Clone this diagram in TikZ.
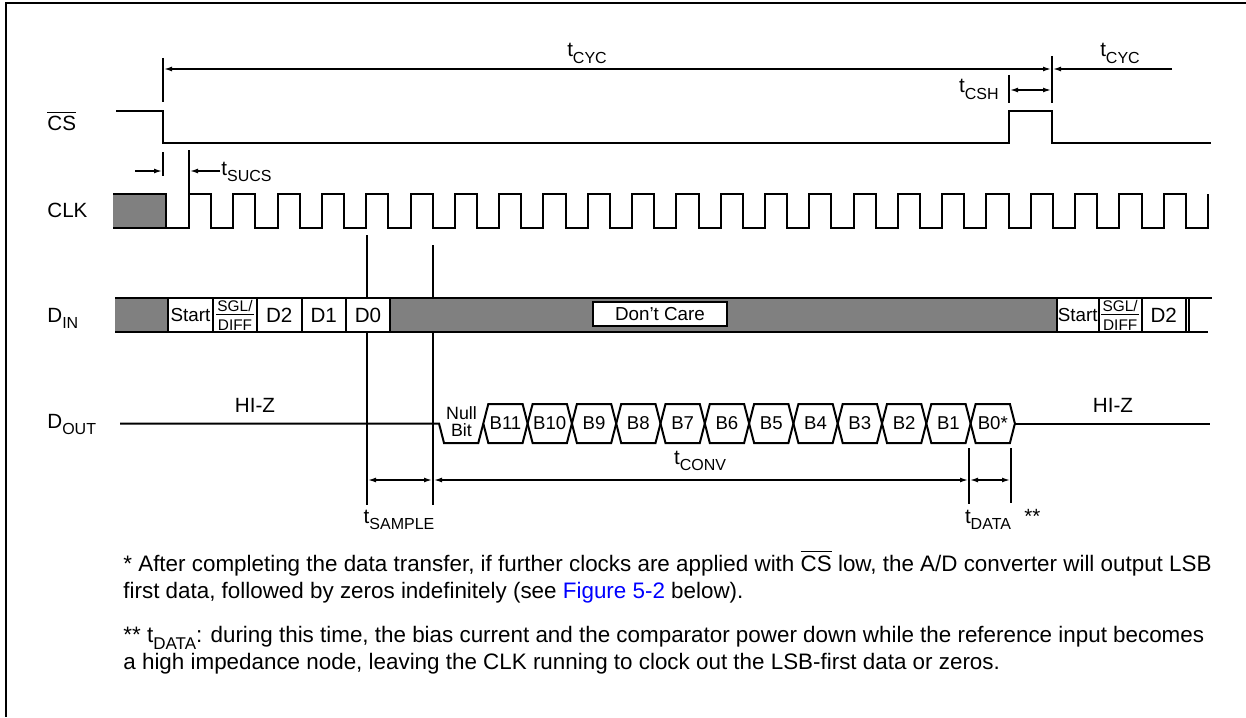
\documentclass[tikz,border=0pt]{standalone}
\usepackage{fontspec}
\setmainfont{Liberation Sans}
\usetikzlibrary{arrows.meta}
\definecolor{dgray}{RGB}{128,128,128}
\definecolor{linkblue}{RGB}{0,0,255}
\newcommand\sbs[2][8]{\raisebox{-0.32em}{\fontsize{#1}{#1}\selectfont #2}}
\newcommand\tlab[2][8]{t\sbs[#1]{#2}}
\newcommand\ovl[1]{\leavevmode\vbox{\hrule height 0.5pt\kern 1.5pt\hbox{#1}}}
\tikzset{
  sig/.style={line width=1pt},
  tip/.tip={Latex[length=4.5pt,width=2.4pt]},
  dimboth/.style={line width=0.9pt,{tip}-{tip}},
  dimto/.style={line width=0.9pt,-{tip}},
  lbl/.style={inner sep=0pt,font=\fontsize{10.3}{12}\selectfont},
  cell/.style={inner sep=0pt,font=\fontsize{9.3}{11}\selectfont},
  foot/.style={inner sep=0pt,anchor=base west,font=\fontsize{11.2}{13}\selectfont},
}
\begin{document}
\begin{tikzpicture}[x=0.5pt,y=-0.5pt]
\useasboundingbox (0,0) rectangle (1246,717);
% frame
\draw[line width=0.9pt] (1246,3) -- (6,3) -- (6,717);

% signal names
\node[lbl,anchor=base west] (ncs) at (47,130) {\ovl{CS}};
\node[lbl,anchor=base west] (nclk) at (47,217) {CLK};
\node[lbl,anchor=base west] (ndin) at (47,322) {D\sbs{IN}};
\node[lbl,anchor=base west] (ndout) at (47,428) {D\sbs{OUT}};

% CS
\draw[sig] (116,111) -- (163,111) -- (163,143) -- (1009,143) -- (1009,111) -- (1052,111) -- (1052,143) -- (1211,143);

% tCYC
\coordinate (cyL) at (163,69);
\coordinate (cyR) at (1052,69);
\coordinate (cyE) at (1172,69);
\draw[sig] (163,58) -- (163,102);
\draw[sig] (1052,56) -- (1052,103);
\draw[dimboth] (cyL) -- (cyR);
\draw[dimto] (cyE) -- (cyR);
\node[lbl,anchor=base] (tcyc1) at (587,57) {\tlab{CYC}};
\node[lbl,anchor=base] (tcyc2) at (1120,57) {\tlab{CYC}};
% tCSH
\draw[sig] (1009,75) -- (1009,103);
\coordinate (cshL) at (1009,90);
\coordinate (cshR) at (1052,90);
\draw[dimboth] (cshL) -- (cshR);
\node[lbl,anchor=base east] (tcsh) at (999,93) {\tlab{CSH}};

% tSUCS
\draw[sig] (163,152) -- (163,176);
\draw[sig] (189,150) -- (189,194);
\coordinate (suA) at (135,171);
\coordinate (suB) at (163,171);
\coordinate (suC) at (220,171);
\coordinate (suD) at (189,171);
\draw[dimto] (suA) -- (suB);
\draw[dimto] (suC) -- (suD);
\node[lbl,anchor=base west] (tsucs) at (221,175) {\tlab{SUCS}};

% CLK
\fill[dgray] (113,194) rectangle (166,228);
\draw[sig] (113,228) -- (166,228);
\draw[sig] (113,194) -- (166,194) -- (166,228)
  foreach \k in {0,...,22} { -- ({189+44.304*\k},228) -- ({189+44.304*\k},194) -- ({211.15+44.304*\k},194) -- ({211.15+44.304*\k},228) }
  -- (1208,228) -- (1208,194);

% DIN
\fill[dgray] (115,298) rectangle (168,332);
\fill[dgray] (390,298) rectangle (1057,332);
\draw[sig] (115,298) -- (1212,298);
\draw[sig] (115,332) -- (1208,332);
\foreach \x in {168,213,257,301.5,346,390,1057,1098.5,1142,1185.5,1188.5}
  \draw[sig] (\x,298) -- (\x,332);
\node[fill=white,draw=black,line width=0.6pt,minimum width=67pt,minimum height=12pt,inner sep=0pt,font=\fontsize{9.4}{11}\selectfont] (dc) at (660,314) {Don’t Care};
\foreach \c/\n in {190.5/a,1077.7/b}
  \node[inner sep=0pt,font=\fontsize{9.4}{11}\selectfont] (start\n) at (\c,315) {Start};
\foreach \c/\n in {235/a,1120.2/b}{
  \node[inner sep=0pt,font=\fontsize{7.7}{8}\selectfont,anchor=base] (sgl\n) at (\c,311) {SGL/};
  \node[inner sep=0pt,font=\fontsize{7.7}{8}\selectfont,anchor=base] (diff\n) at (\c,330) {DIFF};
  \draw[line width=0.6pt] (\c-19,314.5) -- (\c+19,314.5);
}
\foreach \c/\t/\n in {279.2/D2/a,323.7/D1/b,368/D0/c,1163.7/D2/d}
  \node[inner sep=0pt,font=\fontsize{10.3}{12}\selectfont,anchor=base] (d\n) at (\c,322) {\t};

% DOUT
\draw[sig] (120,423.5) -- (439,423.5) -- (444,443) -- (478.3,443) -- (483.3,423.5);
\node[inner sep=0pt,align=center,font=\fontsize{8.9}{8.6}\selectfont] (null) at (461.5,422) {Null\\Bit};
\foreach \k/\lab in {1/B11,2/B10,3/B9,4/B8,5/B7,6/B6,7/B5,8/B4,9/B3,10/B2,11/B1,12/B0*}{
  \pgfmathsetmacro\a{439+44.3*\k}
  \pgfmathsetmacro\b{\a+44.3}
  \draw[sig] (\a,423.5) -- (\a+5,404) -- (\b-5,404) -- (\b,423.5) -- (\b-5,443) -- (\a+5,443) -- cycle;
  \node[cell] (bit\k) at ({(\a+\b)/2},423.5) {\lab};
}
\draw[sig] (1014.9,423.5) -- (1210,423.5);
\node[lbl,anchor=base] (hiz1) at (255,412.5) {HI-Z};
\node[lbl,anchor=base] (hiz2) at (1113,412.5) {HI-Z};

% sample / conv / data
\draw[sig] (367,235) -- (367,298);
\draw[sig] (367,332) -- (367,505);
\draw[sig] (433,245) -- (433,298);
\draw[sig] (433,332) -- (433,505);
\draw[sig] (969,448) -- (969,504);
\draw[sig] (1011,448) -- (1011,503);
\coordinate (smA) at (367,480);
\coordinate (smB) at (433,480);
\coordinate (cvB) at (969,480);
\coordinate (dtB) at (1011,480);
\draw[dimboth] (smA) -- (smB);
\draw[dimboth] (smB) -- (cvB);
\draw[dimboth] (cvB) -- (dtB);
\node[lbl,anchor=base] (tconv) at (700,464) {\tlab{CONV}};
\node[lbl,anchor=base] (tsample) at (399,523) {\tlab{SAMPLE}};
\node[lbl,anchor=base] (tdata) at (988,523) {\tlab{DATA}};
\node[lbl,anchor=base west] (stars) at (1024,523) {**};

% footnotes
\node[foot] (f1) at (123,571) {* After completing the data transfer, if further clocks are applied with \ovl{CS} low, the A/D converter will output LSB};
\node[foot] (f2) at (123,598) {first data, followed by zeros indefinitely (see {\color{linkblue}Figure 5-2} below).};
\node[foot] (f3) at (123,642) {** \tlab[8.5]{DATA}: during this time, the bias current and the comparator power down while the reference input becomes};
\node[foot] (f4) at (123,669) {a high impedance node, leaving the CLK running to clock out the LSB-first data or zeros.};
\end{tikzpicture}
\end{document}
